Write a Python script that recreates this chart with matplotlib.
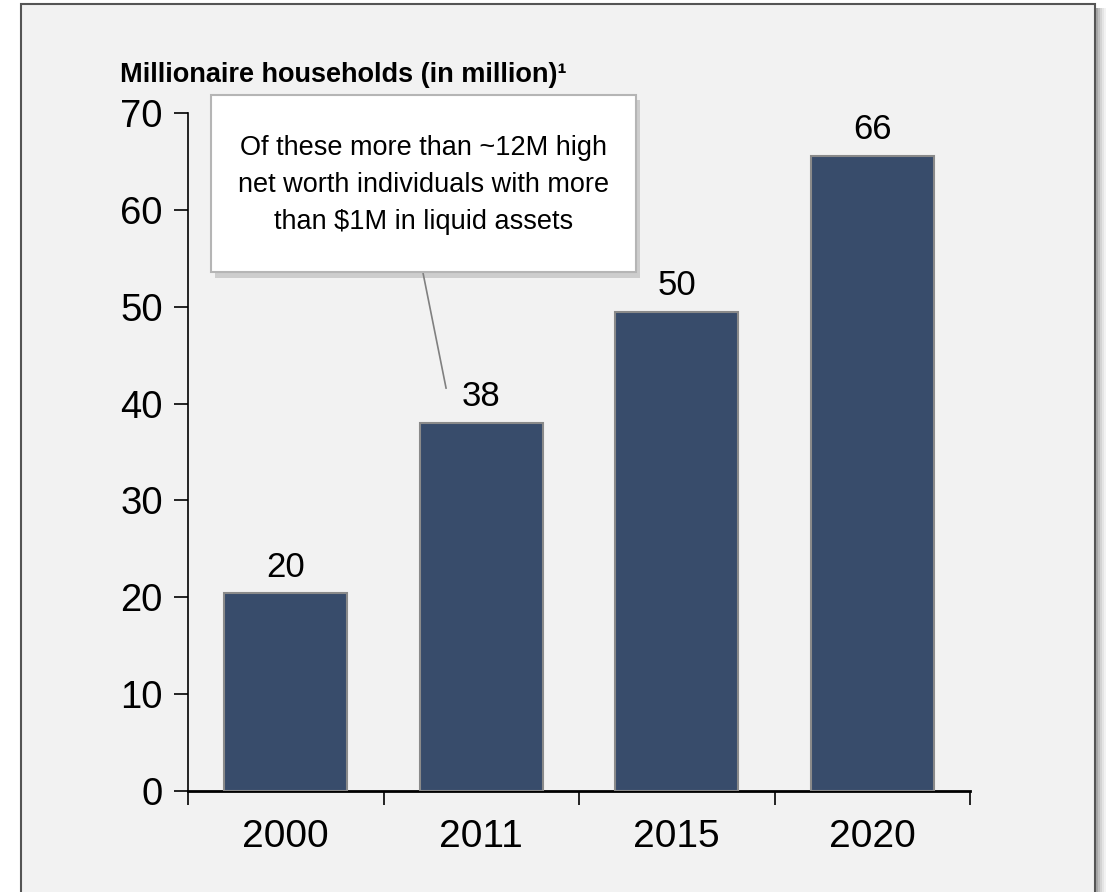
import matplotlib.pyplot as plt
from matplotlib.patches import Rectangle

# data
years = ["2000", "2011", "2015", "2020"]
households = [20.4, 38.0, 49.5, 65.6]
value_labels = ["20", "38", "50", "66"]
y_ticks = [0, 10, 20, 30, 40, 50, 60, 70]
title = "Millionaire households (in million)\u00b9"
note = "Of these more than ~12M high\nnet worth individuals with more\nthan $1M in liquid assets"

bar_color = "#384c6b"
panel_color = "#f2f2f2"
plain = ["Liberation Sans", "DejaVu Sans"]

fig = plt.figure(figsize=(11.08, 8.92), dpi=100, facecolor="white")

# grey panel with a soft shadow on the right
W, H = 1108, 892
for i, a in enumerate([0.35, 0.25, 0.17, 0.1, 0.05]):
    fig.patches.append(Rectangle(((1096 + 2 * i) / W, -0.01), 2 / W, (H - 8) / H + 0.01,
                                 transform=fig.transFigure, facecolor="black",
                                 alpha=a, edgecolor="none", zorder=-11))
fig.patches.append(Rectangle((21 / W, -0.01), (1095 - 21) / W, (H - 4) / H + 0.01,
                             transform=fig.transFigure, facecolor=panel_color,
                             edgecolor="#555555", linewidth=1.5, zorder=-10))

ax = fig.add_axes([188 / W, (H - 791) / H, 782 / W, 678 / H])
ax.set_facecolor("none")
x = range(len(years))
ax.bar(x, households, width=0.63, color=bar_color, edgecolor="#8a8a8a", linewidth=1.5, zorder=3)

for xi, v, lab in zip(x, households, value_labels):
    ax.annotate(lab, (xi, v), xytext=(0, 7), textcoords="offset points",
                ha="center", va="bottom", fontsize=25, family=plain)

ax.set_xlim(-0.5, len(years) - 0.5)
ax.set_ylim(0, 70)
ax.set_yticks(y_ticks)
ax.set_yticklabels([str(t) for t in y_ticks], fontsize=27.5, family=plain)
ax.set_xticks([i + 0.5 for i in range(-1, len(years))])
ax.set_xticklabels([])
ax.set_xticks(list(x), minor=True)
ax.set_xticklabels(years, minor=True, fontsize=28, family=plain)
ax.tick_params(axis="x", which="minor", length=0, pad=20)
ax.tick_params(axis="x", which="major", length=10, width=1.2, direction="out")
ax.tick_params(axis="y", length=10, width=1.2, direction="out", pad=8)
for s in ["top", "right"]:
    ax.spines[s].set_visible(False)
ax.spines["left"].set_linewidth(1.2)
ax.spines["bottom"].set_linewidth(2)

# callout box
bx0, bx1, by0, by1 = -0.382, 1.79, 53.6, 71.9
ax.add_patch(Rectangle((bx0 + 0.02, by0 - 0.6), bx1 - bx0, by1 - by0, facecolor="black",
                       alpha=0.15, edgecolor="none", clip_on=False, zorder=4))
ax.add_patch(Rectangle((bx0, by0), bx1 - bx0, by1 - by0, facecolor="white",
                       edgecolor="#b5b5b5", linewidth=1.5, clip_on=False, zorder=5))
ax.text((bx0 + bx1) / 2, (by0 + by1) / 2 - 0.15, note, ha="center", va="center",
        fontsize=19.5, family=plain, linespacing=1.55, zorder=6)
ax.plot([0.702, 0.82], [53.5, 41.6], color="#808080", linewidth=1.2, zorder=4, clip_on=False)

fig.text(120 / W, 1 - 75 / H, title, fontsize=19.5, fontweight="bold", family=plain,
         ha="left", va="center")

fig.savefig("out.png", dpi=100, facecolor="white")
